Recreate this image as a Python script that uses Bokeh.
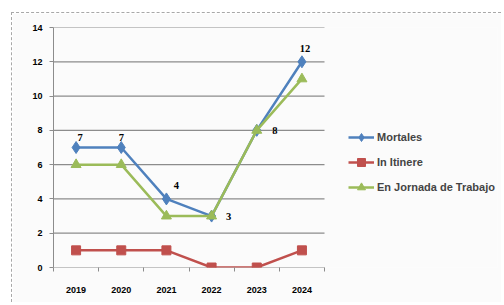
from bokeh.plotting import figure
from bokeh.models import (ColumnDataSource, Range1d, FixedTicker, LabelSet, Legend, LegendItem)
from bokeh.embed import file_html
from bokeh.resources import INLINE

years = ["2019", "2020", "2021", "2022", "2023", "2024"]
mortales = [7, 7, 4, 3, 8, 12]
in_itinere = [1, 1, 1, 0, 0, 1]
en_jornada = [6, 6, 3, 3, 8, 11]
y_ticks = [0, 2, 4, 6, 8, 10, 12, 14]

n = len(years)
xs = [i + 0.5 for i in range(n)]
# label offsets (style only)
lab_dx = [4, 0, 10, 17, 18, 3]
lab_dy = [10, 10, 13, 0, 0, 13]

src = ColumnDataSource(dict(x=xs, m=mortales, i=in_itinere, j=en_jornada,
                            lab=[str(v) for v in mortales], dx=lab_dx, dy=lab_dy))

FONT = "Liberation Sans"
GRAY = "#8c8c8c"
BG = "#fbfbfb"

p = figure(width=490, height=290, output_backend="svg", toolbar_location=None,
           x_range=Range1d(0, 9.83), y_range=Range1d(0, 14),
           min_border_left=41, min_border_right=5, min_border_top=14, min_border_bottom=36,
           background_fill_color=BG, border_fill_color=BG)
p.margin = (12, 0, 0, 11)
p.styles = {"border-top": "1px dashed #a8a8a8", "border-left": "1px dashed #a8a8a8"}
p.outline_line_color = None

# gridlines limited to the category area
p.segment(x0=0, x1=n, y0=y_ticks, y1=y_ticks, line_color=GRAY, line_width=1.2)

# axes
p.xaxis.ticker = FixedTicker(ticks=xs, minor_ticks=list(range(n + 1)))
p.xaxis.major_label_overrides = {x: y for x, y in zip(xs, years)}
p.xaxis.major_tick_line_color = None
p.xaxis.minor_tick_line_color = GRAY
p.xaxis.minor_tick_in = 0
p.xaxis.minor_tick_out = 4
p.xaxis.axis_line_color = None
p.xaxis.major_label_standoff = 13

p.yaxis.ticker = FixedTicker(ticks=y_ticks)
p.yaxis.minor_tick_line_color = None
p.yaxis.major_tick_line_color = GRAY
p.yaxis.major_tick_in = 0
p.yaxis.major_tick_out = 4
p.yaxis.axis_line_color = GRAY
p.yaxis.major_label_standoff = 7

for ax in (p.xaxis, p.yaxis):
    ax.major_label_text_font = FONT
    ax.major_label_text_font_style = "bold"
    ax.major_label_text_font_size = "9px"
    ax.major_label_text_color = "#000000"

p.xgrid.grid_line_color = None
p.ygrid.grid_line_color = None

BLUE, RED, GREEN = "#4F81BD", "#C0504D", "#9BBB59"

l1 = p.line("x", "m", source=src, color=BLUE, line_width=2.5)
s1 = p.scatter("x", "m", source=src, marker="diamond", size=12, color=BLUE)
l2 = p.line("x", "i", source=src, color=RED, line_width=2.5)
s2 = p.scatter("x", "i", source=src, marker="square", size=9, color=RED)
l3 = p.line("x", "j", source=src, color=GREEN, line_width=2.5)
s3 = p.scatter("x", "j", source=src, marker="triangle", size=10, color=GREEN)

labels = LabelSet(x="x", y="m", text="lab", source=src, x_offset="dx", y_offset="dy",
                  text_align="center", text_baseline="middle",
                  text_font=FONT, text_font_style="bold", text_font_size="10.5px",
                  text_color="#000000")
p.add_layout(labels)

legend = Legend(items=[
    LegendItem(label="Mortales", renderers=[l1, s1]),
    LegendItem(label="In Itinere", renderers=[l2, s2]),
    LegendItem(label="En Jornada de Trabajo", renderers=[l3, s3]),
], location=(295, 70))
legend.background_fill_alpha = 0
legend.border_line_color = None
legend.glyph_width = 26
legend.glyph_height = 20
legend.spacing = 5
legend.label_standoff = 3
legend.label_text_font = FONT
legend.label_text_font_style = "bold"
legend.label_text_font_size = "11px"
legend.padding = 0
legend.margin = 0
p.add_layout(legend, "center")

open("out.html", "w").write(file_html(p, INLINE))
